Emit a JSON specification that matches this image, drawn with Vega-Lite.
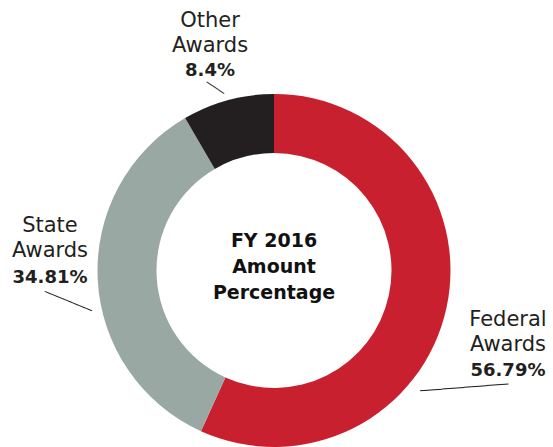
{
  "$schema": "https://vega.github.io/schema/vega-lite/v6.json",
  "width": 353,
  "height": 353,
  "autosize": {"type": "none"},
  "padding": {"left": 97.5, "top": 94, "right": 102.5, "bottom": 0},
  "background": "white",
  "config": {"view": {"stroke": null}},
  "datasets": {
    "awards": [
      {"category": "Federal Awards", "value": 56.79, "pct": "56.79%", "ord": 1},
      {"category": "State Awards", "value": 34.81, "pct": "34.81%", "ord": 2},
      {"category": "Other Awards", "value": 8.4, "pct": "8.4%", "ord": 3}
    ],
    "center": [{"title": "FY 2016\nAmount\nPercentage"}]
  },
  "data": {"name": "awards"},
  "layer": [
    {
      "mark": {"type": "arc", "innerRadius": 117.5, "outerRadius": 176.5},
      "encoding": {
        "theta": {"field": "value", "type": "quantitative", "stack": true},
        "order": {"field": "ord", "type": "quantitative"},
        "color": {"field": "category", "type": "nominal", "legend": null,
          "scale": {"domain": ["Federal Awards", "State Awards", "Other Awards"], "range": ["#C8202F", "#9AA8A3", "#231F20"]}}
      }
    },
    {
      "mark": {"type": "text", "radius": 200, "dx": -11.8, "dy": -50.4, "font": "DejaVu Sans", "fontSize": 21, "lineHeight": 25, "lineBreak": " ", "align": "center", "baseline": "alphabetic", "color": "#231F20"},
      "encoding": {
        "theta": {"field": "value", "type": "quantitative", "stack": true},
        "order": {"field": "ord", "type": "quantitative"},
        "detail": {"field": "category", "type": "nominal"},
        "text": {"condition": {"test": "datum.category === 'Other Awards'", "field": "category", "type": "nominal"}, "value": ""}
      }
    },
    {
      "mark": {"type": "text", "radius": 200, "dx": -11.8, "dy": -1.4, "font": "DejaVu Sans", "fontSize": 18, "fontWeight": "bold", "align": "center", "baseline": "alphabetic", "color": "#231F20"},
      "encoding": {
        "theta": {"field": "value", "type": "quantitative", "stack": true},
        "order": {"field": "ord", "type": "quantitative"},
        "detail": {"field": "category", "type": "nominal"},
        "text": {"condition": {"test": "datum.category === 'Other Awards'", "field": "pct", "type": "nominal"}, "value": ""}
      }
    },
    {
      "mark": {"type": "text", "radius": 225, "dx": 0.7, "dy": -50.2, "font": "DejaVu Sans", "fontSize": 21, "lineHeight": 25, "lineBreak": " ", "align": "center", "baseline": "alphabetic", "color": "#231F20"},
      "encoding": {
        "theta": {"field": "value", "type": "quantitative", "stack": true},
        "order": {"field": "ord", "type": "quantitative"},
        "detail": {"field": "category", "type": "nominal"},
        "text": {"condition": {"test": "datum.category === 'State Awards'", "field": "category", "type": "nominal"}, "value": ""}
      }
    },
    {
      "mark": {"type": "text", "radius": 225, "dx": 0.7, "dy": 0.8, "font": "DejaVu Sans", "fontSize": 18, "fontWeight": "bold", "align": "center", "baseline": "alphabetic", "color": "#231F20"},
      "encoding": {
        "theta": {"field": "value", "type": "quantitative", "stack": true},
        "order": {"field": "ord", "type": "quantitative"},
        "detail": {"field": "category", "type": "nominal"},
        "text": {"condition": {"test": "datum.category === 'State Awards'", "field": "pct", "type": "nominal"}, "value": ""}
      }
    },
    {
      "mark": {"type": "text", "radius": 240, "dx": -0.6, "dy": 4.2, "font": "DejaVu Sans", "fontSize": 21, "lineHeight": 25, "lineBreak": " ", "align": "center", "baseline": "alphabetic", "color": "#231F20"},
      "encoding": {
        "theta": {"field": "value", "type": "quantitative", "stack": true},
        "order": {"field": "ord", "type": "quantitative"},
        "detail": {"field": "category", "type": "nominal"},
        "text": {"condition": {"test": "datum.category === 'Federal Awards'", "field": "category", "type": "nominal"}, "value": ""}
      }
    },
    {
      "mark": {"type": "text", "radius": 240, "dx": -0.6, "dy": 54.7, "font": "DejaVu Sans", "fontSize": 18, "fontWeight": "bold", "align": "center", "baseline": "alphabetic", "color": "#231F20"},
      "encoding": {
        "theta": {"field": "value", "type": "quantitative", "stack": true},
        "order": {"field": "ord", "type": "quantitative"},
        "detail": {"field": "category", "type": "nominal"},
        "text": {"condition": {"test": "datum.category === 'Federal Awards'", "field": "pct", "type": "nominal"}, "value": ""}
      }
    },
    {
      "mark": {"type": "text", "radius": 190, "angle": 33.8, "dx": -7.3, "dy": 6.6, "font": "DejaVu Sans Mono", "fontSize": 11.5, "align": "center", "baseline": "middle", "color": "#231F20"},
      "encoding": {
        "theta": {"field": "value", "type": "quantitative", "stack": true},
        "order": {"field": "ord", "type": "quantitative"},
        "detail": {"field": "category", "type": "nominal"},
        "text": {"condition": {"test": "datum.category === 'Other Awards'", "value": "───"}, "value": ""}
      }
    },
    {
      "mark": {"type": "text", "radius": 205, "angle": 22.1, "dx": 6.7, "dy": 19.2, "font": "DejaVu Sans Mono", "fontSize": 12, "align": "center", "baseline": "middle", "color": "#231F20"},
      "encoding": {
        "theta": {"field": "value", "type": "quantitative", "stack": true},
        "order": {"field": "ord", "type": "quantitative"},
        "detail": {"field": "category", "type": "nominal"},
        "text": {"condition": {"test": "datum.category === 'State Awards'", "value": "───────"}, "value": ""}
      }
    },
    {
      "mark": {"type": "text", "radius": 200, "angle": -4.5, "dx": -11.1, "dy": 74.1, "font": "DejaVu Sans Mono", "fontSize": 12.26, "align": "center", "baseline": "middle", "color": "#231F20"},
      "encoding": {
        "theta": {"field": "value", "type": "quantitative", "stack": true},
        "order": {"field": "ord", "type": "quantitative"},
        "detail": {"field": "category", "type": "nominal"},
        "text": {"condition": {"test": "datum.category === 'Federal Awards'", "value": "────────────"}, "value": ""}
      }
    },
    {
      "data": {"name": "center"},
      "mark": {"type": "text", "dy": -23.8, "font": "DejaVu Sans", "fontSize": 19, "fontWeight": "bold", "lineHeight": 26, "lineBreak": "\n", "align": "center", "baseline": "alphabetic", "color": "#111111"},
      "encoding": {
        "text": {"field": "title", "type": "nominal"}
      }
    }
  ]
}
